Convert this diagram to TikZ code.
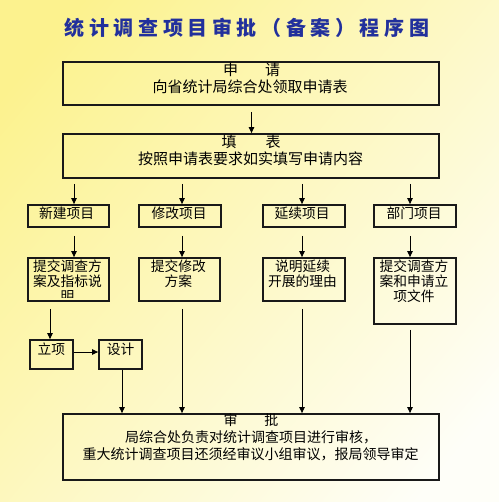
\documentclass[tikz,border=0pt]{standalone}
\usepackage{fontspec}
\setmainfont{Noto Sans CJK SC}
\usetikzlibrary{arrows.meta,calc}
\definecolor{bgyel}{HTML}{FCF28E}
\definecolor{bgwhite}{HTML}{FEFEF8}
\definecolor{titleblue}{HTML}{22309C}
\tikzset{
  box/.style={draw=black!90, line width=1.8pt, rectangle, inner sep=0pt},
  arr/.style={draw=black, line width=0.9pt, -{Triangle[length=6pt,width=5.5pt]}},
  big/.style={inner sep=0pt, font=\fontsize{15}{18}\selectfont},
  mid/.style={inner sep=0pt, font=\fontsize{14}{17}\selectfont},
  sml/.style={inner sep=0pt, align=center, font=\fontsize{13.75}{15}\selectfont},
}
\begin{document}
\begin{tikzpicture}[x=1pt,y=-1pt]
\useasboundingbox (0,0) rectangle (498,502);
\shade[top color=bgyel, bottom color=bgwhite, shading angle=50] (-40,-40) rectangle (538,542);

% title
\node[inner sep=0pt, text=titleblue, font=\fontsize{20}{22}\selectfont\bfseries\addfontfeature{LetterSpace=23}] (title) at (247,28) {统计调查项目审批（备案）程序图};

% boxes
\node[box, minimum width=376, minimum height=43] (b1) at (251,83.5) {};
\node[box, minimum width=376, minimum height=44] (b2) at (251,156) {};
\node[box, minimum width=81, minimum height=22] (n1) at (68.5,216) {};
\node[box, minimum width=82, minimum height=22] (m1) at (180,216) {};
\node[box, minimum width=82, minimum height=22] (y1) at (304,216) {};
\node[box, minimum width=82, minimum height=22] (d1) at (415,216) {};
\node[box, minimum width=81, minimum height=43] (n2) at (68.5,279.5) {};
\node[box, minimum width=81, minimum height=43] (m2) at (179.5,279.5) {};
\node[box, minimum width=82, minimum height=43] (y2) at (304,279.5) {};
\node[box, minimum width=82, minimum height=66] (d2) at (415,291) {};
\node[box, minimum width=43, minimum height=29] (lx) at (51.5,354.5) {};
\node[box, minimum width=43, minimum height=29] (sj) at (120.5,354.5) {};
\node[box, minimum width=376, minimum height=66] (sp) at (251,447) {};

% texts
\node[big] (t1a) at (251.5,70) {申\hspace{27pt}请};
\node[big] (t1b) at (250,87) {向省统计局综合处领取申请表};
\node[big] (t2a) at (251,142) {填\hspace{29pt}表};
\node[big] (t2b) at (250.5,159) {按照申请表要求如实填写申请内容};
\node[sml] (tn1) at (66.5,213) {新建项目};
\node[sml] (tm1) at (179,213) {修改项目};
\node[sml] (ty1) at (302,213) {延续项目};
\node[sml] (td1) at (414,213) {部门项目};
\begin{scope}
\clip (n2.north west) rectangle ($(n2.south east)+(0,-4)$);
\node[sml] (tn2) at (67.5,281.7) {提交调查方\\案及指标说\\明};
\end{scope}
\node[sml] (tm2) at (178.3,274.2) {提交修改\\方案};
\node[sml] (ty2) at (302.5,274.2) {说明延续\\开展的理由};
\node[sml] (td2) at (414,281) {提交调查方\\案和申请立\\项文件};
\node[sml] (tlx) at (51.3,349) {立项};
\node[sml] (tsj) at (120.7,349) {设计};
\node[mid] (tsa) at (251,420) {审\hspace{27pt}批};
\node[mid] (tsb) at (251,437) {局综合处负责对统计调查项目进行审核，};
\node[mid] (tsc) at (250.5,454) {重大统计调查项目还须经审议小组审议，报局领导审定};

% connectors
\draw[arr] ($(b1.south)+(0.5,6)$) -- ($(b2.north)+(0.5,0)$);
\draw[arr] ($(b2.south -| n1.north)+(5.5,5)$) -- ($(n1.north)+(5.5,0)$);
\draw[arr] ($(b2.south -| m1.north)+(2,5)$) -- ($(m1.north)+(2,0)$);
\draw[arr] ($(b2.south -| y1.north)+(-2,5)$) -- ($(y1.north)+(-2,0)$);
\draw[arr] ($(b2.south -| d1.north)+(-5,5)$) -- ($(d1.north)+(-5,0)$);
\draw[arr] ($(n1.south)+(5.5,8)$) -- ($(n2.north)+(5.5,0)$);
\draw[arr] ($(m1.south)+(2,8)$) -- ($(m2.north -| m1.south)+(2,0)$);
\draw[arr] ($(y1.south)+(-2,8)$) -- ($(y2.north)+(-2,0)$);
\draw[arr] ($(d1.south)+(-5,8)$) -- ($(d2.north)+(-5,0)$);
\draw[arr] ($(n2.south -| lx.north)+(-1.5,7)$) -- ($(lx.north)+(-1.5,0)$);
\draw[arr] ($(lx.east)+(0,-2.5)$) -- ($(sj.west)+(0,-2.5)$);
\draw[arr] ($(sj.south)+(1.5,0)$) -- ($(sp.north -| sj.south)+(1.5,0)$);
\draw[arr] ($(m2.south)+(2.5,7)$) -- ($(sp.north -| m2.south)+(2.5,0)$);
\draw[arr] ($(y2.south)+(-2,7)$) -- ($(sp.north -| y2.south)+(-2,0)$);
\draw[arr] ($(d2.south)+(-5,5)$) -- ($(sp.north -| d2.south)+(-5,0)$);
\end{tikzpicture}
\end{document}
